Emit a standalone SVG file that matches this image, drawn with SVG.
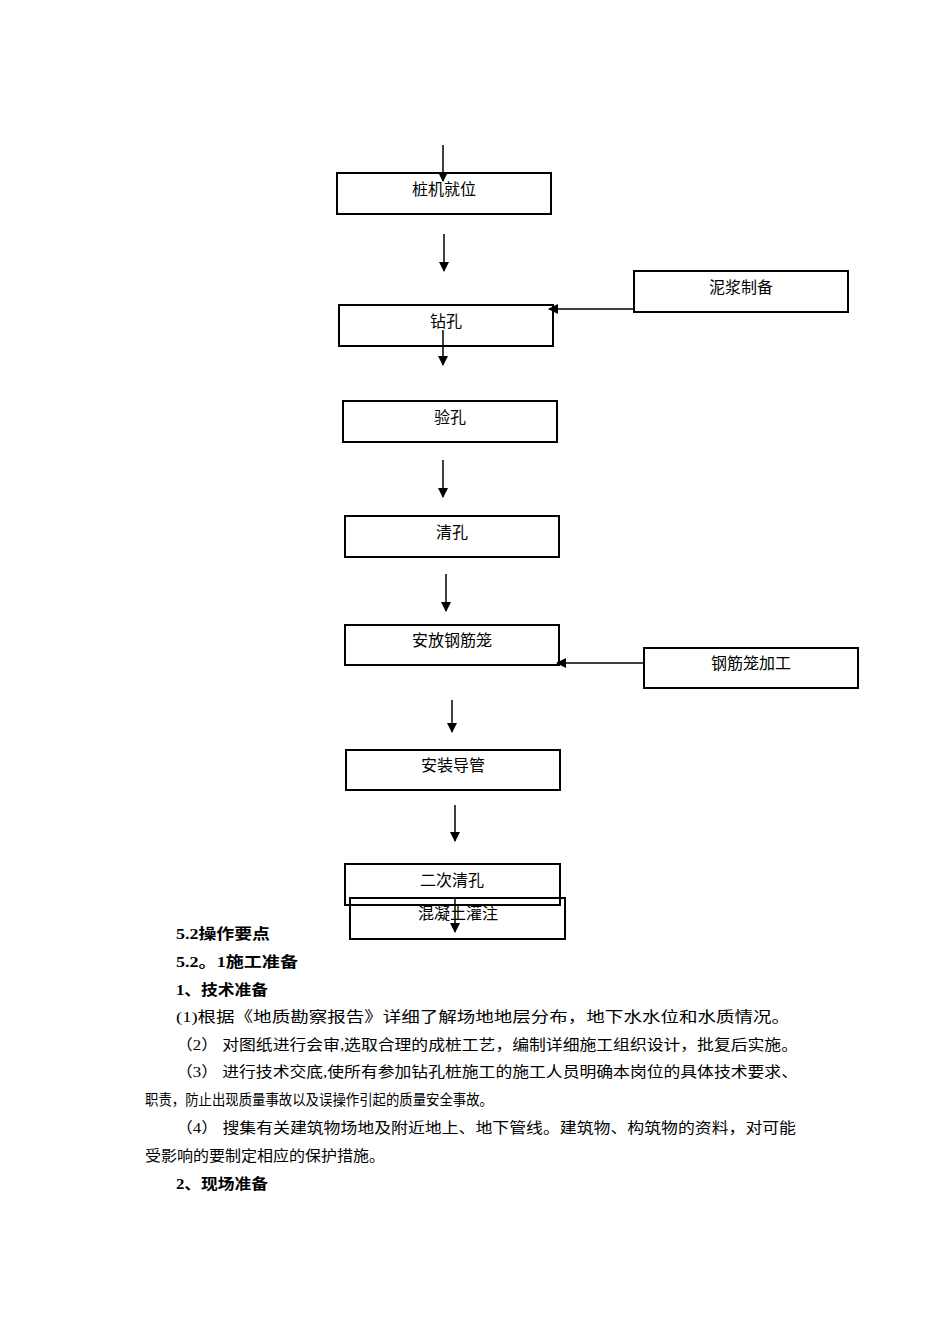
<svg xmlns="http://www.w3.org/2000/svg" width="950" height="1344" viewBox="0 0 950 1344">
<style>
.b{fill:none;stroke:#000;stroke-width:2}
.t{font-family:"Liberation Serif","Noto Sans CJK SC",serif;font-size:16px;text-anchor:middle;fill:#000}
.p{font-family:"Liberation Serif","Noto Sans CJK SC",serif;font-size:15px;fill:#000}
.h{font-family:"Liberation Serif","Noto Sans CJK SC",serif;font-size:15px;font-weight:bold;fill:#000}
.c{stroke:#000;stroke-width:1.5;fill:none;marker-end:url(#a)}
</style>
<defs><marker id="a" markerWidth="10" markerHeight="10" refX="9" refY="5" orient="auto" markerUnits="userSpaceOnUse"><path d="M0,0 L10,5 L0,10 z"/></marker></defs>
<rect width="950" height="1344" fill="#fff"/>
<g id="n1"><rect class="b" x="337" y="173" width="214" height="41"/><text class="t" x="444" y="195">桩机就位</text></g>
<g id="n2"><rect class="b" x="339" y="305" width="214" height="41"/><text class="t" x="446" y="327">钻孔</text></g>
<g id="n3"><rect class="b" x="634" y="271" width="214" height="41"/><text class="t" x="741" y="293">泥浆制备</text></g>
<g id="n4"><rect class="b" x="343" y="401" width="214" height="41"/><text class="t" x="450" y="423">验孔</text></g>
<g id="n5"><rect class="b" x="345" y="516" width="214" height="41"/><text class="t" x="452" y="538">清孔</text></g>
<g id="n6"><rect class="b" x="345" y="625" width="214" height="40"/><text class="t" x="452" y="646">安放钢筋笼</text></g>
<g id="n7"><rect class="b" x="644" y="648" width="214" height="40"/><text class="t" x="751" y="669">钢筋笼加工</text></g>
<g id="n8"><rect class="b" x="346" y="750" width="214" height="40"/><text class="t" x="453" y="771">安装导管</text></g>
<g id="n9"><rect class="b" x="345" y="864" width="215" height="41"/><text class="t" x="452" y="886">二次清孔</text></g>
<g id="n10"><rect class="b" x="350" y="898" width="215" height="41"/><text class="t" x="458" y="919">混凝土灌注</text></g>
<g id="connectors">
<line class="c" x1="443" y1="145" x2="443" y2="181"/>
<line class="c" x1="444" y1="234" x2="444" y2="271"/>
<line class="c" x1="634" y1="309" x2="549" y2="309"/>
<line class="c" x1="443" y1="330" x2="443" y2="365"/>
<line class="c" x1="443" y1="460" x2="443" y2="497"/>
<line class="c" x1="446" y1="574" x2="446" y2="611"/>
<line class="c" x1="644" y1="663" x2="557" y2="663"/>
<line class="c" x1="452" y1="700" x2="452" y2="732"/>
<line class="c" x1="455" y1="805" x2="455" y2="841"/>
<line class="c" x1="455" y1="897" x2="455" y2="932"/>
</g>
<text class="h" x="176" y="939" textLength="94" lengthAdjust="spacingAndGlyphs">5.2操作要点</text>
<text class="h" x="176" y="967" textLength="122" lengthAdjust="spacingAndGlyphs">5.2。1施工准备</text>
<text class="h" x="176" y="995" textLength="92" lengthAdjust="spacingAndGlyphs">1、技术准备</text>
<text class="p" x="176" y="1022" textLength="614" lengthAdjust="spacingAndGlyphs">(1)根据《地质勘察报告》详细了解场地地层分布，地下水水位和水质情况。</text>
<text class="p" x="176" y="1050" textLength="622" lengthAdjust="spacingAndGlyphs">（2） 对图纸进行会审,选取合理的成桩工艺，编制详细施工组织设计，批复后实施。</text>
<text class="p" x="176" y="1077" textLength="622" lengthAdjust="spacingAndGlyphs">（3） 进行技术交底,使所有参加钻孔桩施工的施工人员明确本岗位的具体技术要求、</text>
<text class="p" x="145" y="1105" textLength="348" lengthAdjust="spacingAndGlyphs">职责，防止出现质量事故以及误操作引起的质量安全事故。</text>
<text class="p" x="176" y="1133" textLength="620" lengthAdjust="spacingAndGlyphs">（4） 搜集有关建筑物场地及附近地上、地下管线。建筑物、构筑物的资料，对可能</text>
<text class="p" x="145" y="1161" textLength="240" lengthAdjust="spacingAndGlyphs">受影响的要制定相应的保护措施。</text>
<text class="h" x="176" y="1189" textLength="92" lengthAdjust="spacingAndGlyphs">2、现场准备</text>
</svg>
